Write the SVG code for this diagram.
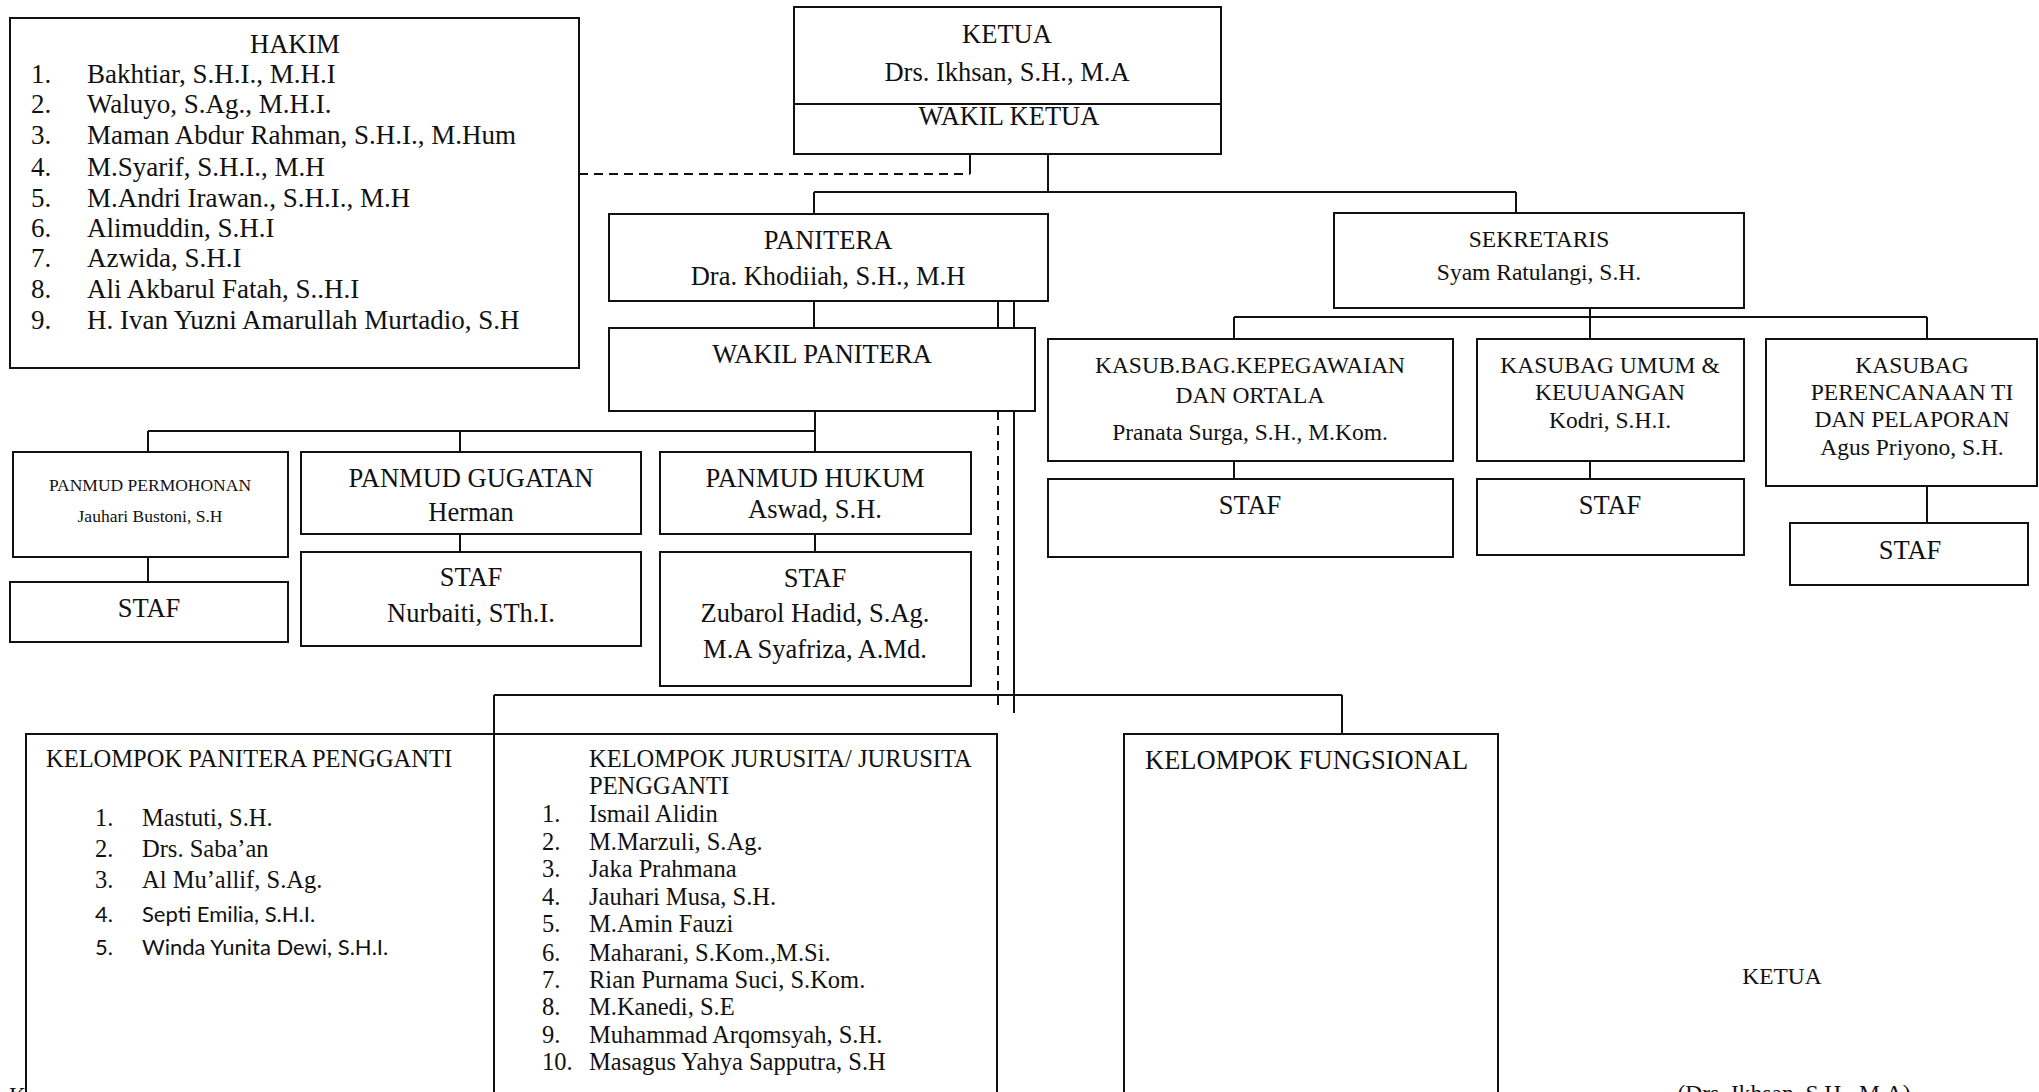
<svg xmlns="http://www.w3.org/2000/svg" width="2039" height="1092" viewBox="0 0 2039 1092">
<style>
.b{fill:none;stroke:#111;stroke-width:2}
.c{fill:none;stroke:#111;stroke-width:2}
.d{fill:none;stroke:#111;stroke-width:2;stroke-dasharray:9 6}
text{font-family:"Liberation Serif","Times New Roman",serif;fill:#111}
.L{font-size:26.5px}
.H{font-size:27px}
.M{font-size:23.5px}
.K{font-size:24.5px}
.S{font-size:17.5px}
.m{text-anchor:middle}
.cal{font-family:Lato,"Open Sans",sans-serif;font-size:22px}
</style>
<rect width="2039" height="1092" fill="#fff"/>
<g id="connectors">
<path class="d" d="M579 174H970"/>
<path class="c" d="M970 154V174"/>
<path class="c" d="M1048 154V192M814 192H1516M814 192V214M1516 192V213"/>
<path class="c" d="M814 301V328M998 301V328M1014 301V328"/>
<path class="c" d="M815 411V452M148 431H815M148 431V452M460 431V452"/>
<path class="c" d="M148 557V582M460 534V552M815 534V552"/>
<path class="d" d="M998 411V708"/>
<path class="c" d="M1014 411V713"/>
<path class="c" d="M494 695H1342M494 695V734M1342 695V734"/>
<path class="c" d="M1590 308V339M1234 317H1927M1234 317V339M1927 317V339"/>
<path class="c" d="M1234 461V479M1590 461V479M1927 486V523"/>
</g>
<g id="hakim">
<rect class="b" x="10" y="18" width="569" height="350"/>
<text class="L m" x="295" y="53">HAKIM</text>
<g class="H">
<text x="31" y="83">1.</text><text x="87" y="83">Bakhtiar, S.H.I., M.H.I</text>
<text x="31" y="113">2.</text><text x="87" y="113">Waluyo, S.Ag., M.H.I.</text>
<text x="31" y="144">3.</text><text x="87" y="144">Maman Abdur Rahman, S.H.I., M.Hum</text>
<text x="31" y="176">4.</text><text x="87" y="176">M.Syarif, S.H.I., M.H</text>
<text x="31" y="207">5.</text><text x="87" y="207">M.Andri Irawan., S.H.I., M.H</text>
<text x="31" y="237">6.</text><text x="87" y="237">Alimuddin, S.H.I</text>
<text x="31" y="267">7.</text><text x="87" y="267">Azwida, S.H.I</text>
<text x="31" y="298">8.</text><text x="87" y="298">Ali Akbarul Fatah, S..H.I</text>
<text x="31" y="329">9.</text><text x="87" y="329">H. Ivan Yuzni Amarullah Murtadio, S.H</text>
</g>
</g>
<g id="ketua">
<rect class="b" x="794" y="7" width="427" height="147"/>
<path class="b" d="M794 104H1221"/>
<text class="L m" x="1007" y="43">KETUA</text>
<text class="L m" x="1007" y="81">Drs. Ikhsan, S.H., M.A</text>
<text class="L m" x="1009" y="125">WAKIL KETUA</text>
</g>
<g id="panitera">
<rect class="b" x="609" y="214" width="439" height="87"/>
<text class="L m" x="828" y="249">PANITERA</text>
<text class="L m" x="828" y="285">Dra. Khodiiah, S.H., M.H</text>
</g>
<g id="wakil-panitera">
<rect class="b" x="609" y="328" width="426" height="83"/>
<text class="L m" x="822" y="363">WAKIL PANITERA</text>
</g>
<g id="sekretaris">
<rect class="b" x="1334" y="213" width="410" height="95"/>
<text class="M m" x="1539" y="247">SEKRETARIS</text>
<text class="M m" x="1539" y="280">Syam Ratulangi, S.H.</text>
</g>
<g id="kasub-kepegawaian">
<rect class="b" x="1048" y="339" width="405" height="122"/>
<text class="M m" x="1250" y="373">KASUB.BAG.KEPEGAWAIAN</text>
<text class="M m" x="1250" y="403">DAN ORTALA</text>
<text class="M m" x="1250" y="440">Pranata Surga, S.H., M.Kom.</text>
</g>
<g id="kasub-umum">
<rect class="b" x="1477" y="339" width="267" height="122"/>
<text class="M m" x="1610" y="373">KASUBAG UMUM &amp;</text>
<text class="M m" x="1610" y="400">KEUUANGAN</text>
<text class="M m" x="1610" y="428">Kodri, S.H.I.</text>
</g>
<g id="kasub-perencanaan">
<rect class="b" x="1766" y="339" width="271" height="147"/>
<text class="M m" x="1912" y="373">KASUBAG</text>
<text class="M m" x="1912" y="400">PERENCANAAN TI</text>
<text class="M m" x="1912" y="427">DAN PELAPORAN</text>
<text class="M m" x="1912" y="455">Agus Priyono, S.H.</text>
</g>
<g id="staf-kepegawaian">
<rect class="b" x="1048" y="479" width="405" height="78"/>
<text class="L m" x="1250" y="514">STAF</text>
</g>
<g id="staf-umum">
<rect class="b" x="1477" y="479" width="267" height="76"/>
<text class="L m" x="1610" y="514">STAF</text>
</g>
<g id="staf-perencanaan">
<rect class="b" x="1790" y="523" width="238" height="62"/>
<text class="L m" x="1910" y="559">STAF</text>
</g>
<g id="panmud-permohonan">
<rect class="b" x="13" y="452" width="275" height="105"/>
<text class="S m" x="150" y="491">PANMUD PERMOHONAN</text>
<text class="S m" x="150" y="522">Jauhari Bustoni, S.H</text>
</g>
<g id="staf-permohonan">
<rect class="b" x="10" y="582" width="278" height="60"/>
<text class="L m" x="149" y="617">STAF</text>
</g>
<g id="panmud-gugatan">
<rect class="b" x="301" y="452" width="340" height="82"/>
<text class="L m" x="471" y="487">PANMUD GUGATAN</text>
<text class="L m" x="471" y="521">Herman</text>
</g>
<g id="staf-gugatan">
<rect class="b" x="301" y="552" width="340" height="94"/>
<text class="L m" x="471" y="586">STAF</text>
<text class="L m" x="471" y="622">Nurbaiti, STh.I.</text>
</g>
<g id="panmud-hukum">
<rect class="b" x="660" y="452" width="311" height="82"/>
<text class="L m" x="815" y="487">PANMUD HUKUM</text>
<text class="L m" x="815" y="518">Aswad, S.H.</text>
</g>
<g id="staf-hukum">
<rect class="b" x="660" y="552" width="311" height="134"/>
<text class="L m" x="815" y="587">STAF</text>
<text class="L m" x="815" y="622">Zubarol Hadid, S.Ag.</text>
<text class="L m" x="815" y="658">M.A Syafriza, A.Md.</text>
</g>
<g id="kelompok-panitera-pengganti">
<rect class="b" x="26" y="734" width="468" height="380"/>
<text class="K" x="46" y="767">KELOMPOK PANITERA PENGGANTI</text>
<g class="K">
<text x="95" y="826">1.</text><text x="142" y="826">Mastuti, S.H.</text>
<text x="95" y="857">2.</text><text x="142" y="857">Drs. Saba’an</text>
<text x="95" y="888">3.</text><text x="142" y="888">Al Mu’allif, S.Ag.</text>
</g>
<text class="cal" x="95" y="922">4.</text><text class="cal" x="142" y="922">Septi Emilia, S.H.I.</text>
<text class="cal" x="95" y="955">5.</text><text class="cal" x="142" y="955">Winda Yunita Dewi, S.H.I.</text>
</g>
<g id="kelompok-jurusita">
<rect class="b" x="494" y="734" width="503" height="380"/>
<text class="K" x="589" y="767">KELOMPOK JURUSITA/ JURUSITA</text>
<text class="K" x="589" y="794">PENGGANTI</text>
<g class="K">
<text x="542" y="822">1.</text><text x="589" y="822">Ismail Alidin</text>
<text x="542" y="850">2.</text><text x="589" y="850">M.Marzuli, S.Ag.</text>
<text x="542" y="877">3.</text><text x="589" y="877">Jaka Prahmana</text>
<text x="542" y="905">4.</text><text x="589" y="905">Jauhari Musa, S.H.</text>
<text x="542" y="932">5.</text><text x="589" y="932">M.Amin Fauzi</text>
<text x="542" y="961">6.</text><text x="589" y="961">Maharani, S.Kom.,M.Si.</text>
<text x="542" y="988">7.</text><text x="589" y="988">Rian Purnama Suci, S.Kom.</text>
<text x="542" y="1015">8.</text><text x="589" y="1015">M.Kanedi, S.E</text>
<text x="542" y="1043">9.</text><text x="589" y="1043">Muhammad Arqomsyah, S.H.</text>
<text x="542" y="1070">10.</text><text x="589" y="1070">Masagus Yahya Sapputra, S.H</text>
</g>
</g>
<g id="kelompok-fungsional">
<rect class="b" x="1124" y="734" width="374" height="380"/>
<text class="L" x="1145" y="769">KELOMPOK FUNGSIONAL</text>
</g>
<g id="signature">
<text class="M m" x="1782" y="984">KETUA</text>
<text class="M m" x="1794" y="1101">(Drs. Ikhsan, S.H., M.A)</text>
<text class="M" x="9" y="1103">K</text>
</g>
</svg>
